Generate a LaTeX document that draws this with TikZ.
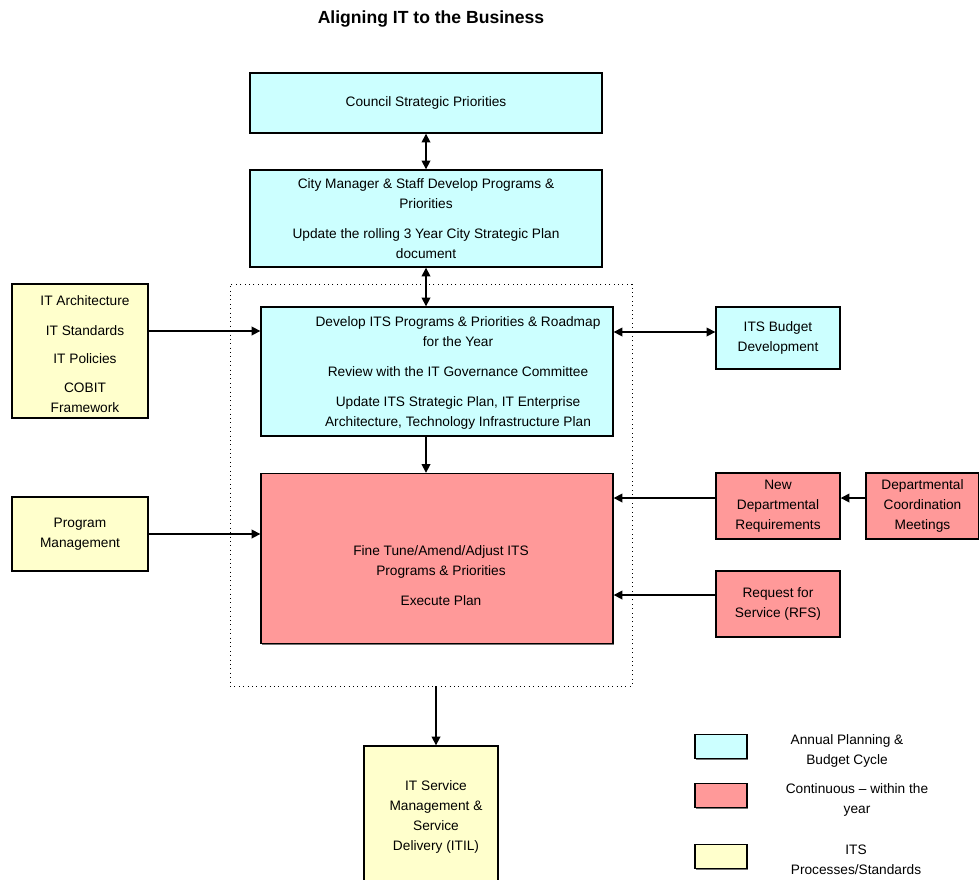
\documentclass[tikz,border=0pt]{standalone}
\usepackage{fontspec}
\setmainfont{Liberation Sans}
\usetikzlibrary{arrows.meta}
\usetikzlibrary{shadows}

\definecolor{annualcyan}{HTML}{CCFFFF}
\definecolor{contred}{HTML}{FF9999}
\definecolor{procyellow}{HTML}{FFFFCC}

\tikzset{
  box/.style={draw=black, line width=0.8pt, rectangle, inner sep=0pt, align=center,
    font=\fontsize{7.8}{11.4}\selectfont,
    drop shadow={shadow xshift=0.7pt, shadow yshift=-0.7pt, fill=black!55, opacity=1}},
  annual/.style={box, fill=annualcyan},
  contin/.style={box, fill=contred},
  process/.style={box, fill=procyellow},
  txt/.style={align=center, inner sep=0pt, font=\fontsize{7.8}{11.4}\selectfont},
  onearrow/.style={line width=0.9pt, -{Triangle[length=5pt,width=5pt]}},
  bothways/.style={line width=0.9pt, {Triangle[length=5pt,width=5pt]}-{Triangle[length=5pt,width=5pt]}}
}

\begin{document}
\begin{tikzpicture}[x=0.02cm, y=-0.02cm]
          \useasboundingbox (0,0) rectangle (979,879);

          \node[font=\fontsize{10}{12}\selectfont\bfseries] (title) at (431,19) {Aligning IT to the Business};

          % the dotted frame round the ITS part
          \node[draw, dotted, line width=0.5pt, minimum width=8.04cm, minimum height=8.04cm] (itsframe) at (431,485) {};

          \node[annual, minimum width=7.04cm, minimum height=1.2cm] (council) at (426,103) {Council Strategic Priorities};
          \node[annual, minimum width=7.04cm, minimum height=1.94cm] (city) at (426,218.5)
               {City Manager \& Staff Develop Programs \&\\Priorities\\[5.7pt]Update the rolling 3 Year City Strategic Plan\\document};

          \node[annual, minimum width=7.04cm, minimum height=2.58cm] (develop) at (437,371.5) {};
          \node[txt] (developtxt) at (458,373)
               {Develop ITS Programs \& Priorities \& Roadmap\\for the Year\\[5.7pt]Review with the IT Governance Committee\\[5.7pt]Update ITS Strategic Plan, IT Enterprise\\Architecture, Technology Infrastructure Plan};

          \node[contin, minimum width=7.04cm, minimum height=3.4cm] (finetune) at (437,558.5) {};
          \node[txt] (finetunetxt) at (441,576)
               {Fine Tune/Amend/Adjust ITS\\Programs \& Priorities\\[5.7pt]Execute Plan};

          % left column
          \node[process, minimum width=2.72cm, minimum height=2.68cm] (itarch) at (80,351) {};
          \node[txt] (itarchA) at (85,301) {IT Architecture};
          \node[txt] (itstd) at (85,331) {IT Standards};
          \node[txt] (itpol) at (85,359) {IT Policies};
          \node[txt] (cobit) at (85,398) {COBIT\\Framework};

          \node[process, minimum width=2.72cm, minimum height=1.48cm] (progmgmt) at (80,534) {Program\\Management};

          % right column
          \node[annual, minimum width=2.48cm, minimum height=1.24cm] (budget) at (778,338) {ITS Budget\\Development};
          \node[contin, minimum width=2.48cm, minimum height=1.32cm] (newdept) at (778,506) {New\\Departmental\\Requirements};
          \node[contin, minimum width=2.26cm, minimum height=1.32cm] (deptcoord) at (922.5,506) {Departmental\\Coordination\\Meetings};
          \node[contin, minimum width=2.48cm, minimum height=1.32cm] (rfs) at (778,604) {Request for\\Service (RFS)};

          \node[process, minimum width=2.68cm, minimum height=2.96cm] (itsm) at (431,820) {};
          \node[txt] (itsmtxt) at (436,817) {IT Service\\Management \&\\Service\\Delivery (ITIL)};

          % connectors
          \draw[bothways] (council.south) -- (city.north);
          \draw[bothways] (city.south) -- (city.south |- develop.north);
          \draw[onearrow] (itarch.east |- itstd) -- (develop.west |- itstd);
          \draw[bothways] ([yshift=0.12cm]develop.east |- budget.west) -- ([yshift=0.12cm]budget.west);
          \draw[onearrow] (develop.south -| city.south) -- (finetune.north -| city.south);
          \draw[onearrow] (progmgmt.east) -- (progmgmt.east -| finetune.west);
          \draw[onearrow] ([yshift=0.16cm]newdept.west) -- ([yshift=0.16cm]newdept.west -| finetune.east);
          \draw[onearrow] ([yshift=0.16cm]deptcoord.west) -- ([yshift=0.16cm]newdept.east);
          \draw[onearrow] ([yshift=0.18cm]rfs.west) -- ([yshift=0.18cm]rfs.west -| finetune.east);
          \draw[onearrow] (itsframe.south -| itsmtxt) -- (itsm.north -| itsmtxt);

          % legend
          \node[annual, minimum width=1.04cm, minimum height=0.48cm] (legannual) at (721,746.5) {};
          \node[contin, minimum width=1.04cm, minimum height=0.48cm] (legcontin) at (721,795.5) {};
          \node[process, minimum width=1.04cm, minimum height=0.48cm] (legprocess) at (721,856.5) {};
          \node[txt] (legannualtxt) at (847,751) {Annual Planning \&\\Budget Cycle};
          \node[txt] (legcontintxt) at (857,800) {Continuous -- within the\\year};
          \node[txt] (legprocesstxt) at (856,860) {ITS\\Processes/Standards};
\end{tikzpicture}
\end{document}
